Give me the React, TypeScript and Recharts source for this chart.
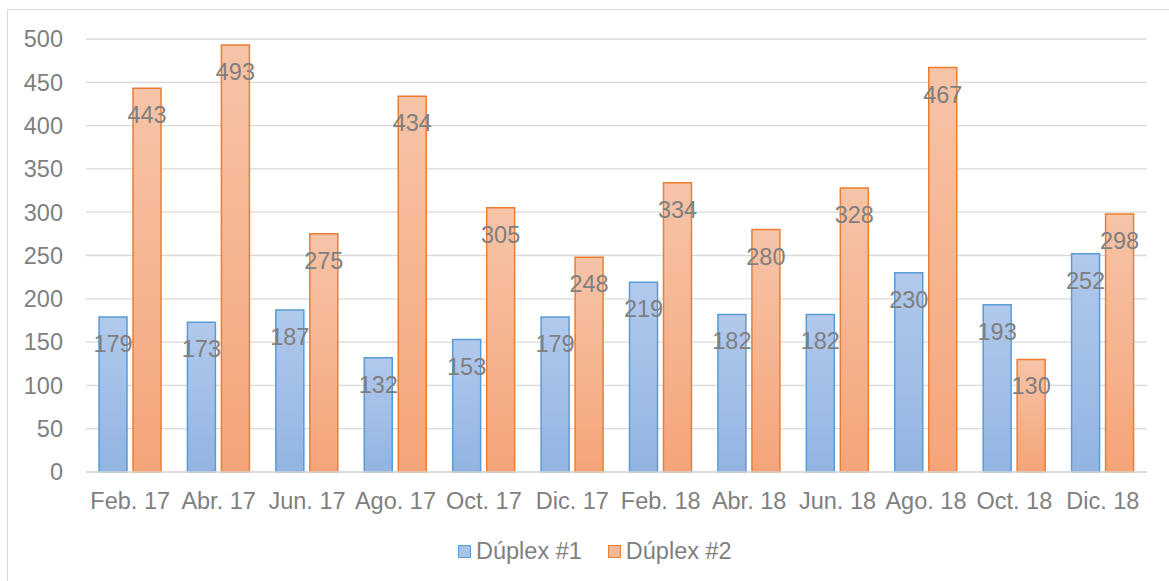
import React from 'react';
import { BarChart, Bar, XAxis, YAxis, CartesianGrid, LabelList } from 'recharts';

const categories = ['Feb. 17', 'Abr. 17', 'Jun. 17', 'Ago. 17', 'Oct. 17', 'Dic. 17', 'Feb. 18', 'Abr. 18', 'Jun. 18', 'Ago. 18', 'Oct. 18', 'Dic. 18'];
const duplex1 = [179, 173, 187, 132, 153, 179, 219, 182, 182, 230, 193, 252];
const duplex2 = [443, 493, 275, 434, 305, 248, 334, 280, 328, 467, 130, 298];
const yTicks = [0, 50, 100, 150, 200, 250, 300, 350, 400, 450, 500];
const seriesNames = ['Dúplex #1', 'Dúplex #2'];

const data = categories.map((c, i) => ({ name: c, d1: duplex1[i], d2: duplex2[i] }));

const FONT = '"Liberation Sans", Arial, sans-serif';
const TEXT = '#7f7f7f';
const FS = 23.5;

const BLUE_STROKE = '#5b9bd5';
const ORANGE_STROKE = '#ed7d31';

const renderLabel = (props: any) => {
  const { x, y, width, value } = props;
  return (
    <text
      x={Number(x) + Number(width) / 2}
      y={Number(y) + 35}
      textAnchor="middle"
      fill={TEXT}
      fontSize={FS}
      fontFamily={FONT}
    >
      {value}
    </text>
  );
};

export default function App() {
  return (
    <div style={{ position: 'absolute', left: 0, top: 0, width: 1169, height: 581, overflow: 'hidden', background: '#fff' }}>
      <div style={{ position: 'absolute', left: 7, top: 9, width: 1300, height: 700, borderLeft: '1.5px solid #d9d9d9', borderTop: '1.5px solid #d9d9d9' }} />
      <div style={{ position: 'absolute', left: 0, top: 0 }}>
        <BarChart
          width={1169}
          height={581}
          data={data}
          margin={{ top: 39, right: 22, bottom: 79, left: 0 }}
          barCategoryGap={13}
          barGap={6}
        >
          <defs>
            <linearGradient id="gBlue" x1="0" y1="0" x2="0" y2="1">
              <stop offset="0%" stopColor="#b1c9eb" />
              <stop offset="100%" stopColor="#92b4e2" />
            </linearGradient>
            <linearGradient id="gOrange" x1="0" y1="0" x2="0" y2="1">
              <stop offset="0%" stopColor="#f6c4a8" />
              <stop offset="100%" stopColor="#f5a479" />
            </linearGradient>
          </defs>
          <CartesianGrid vertical={false} stroke="#d9d9d9" strokeWidth={1.3} />
          <XAxis
            dataKey="name"
            height={30}
            axisLine={{ stroke: '#d9d9d9', strokeWidth: 1.3 }}
            tickLine={false}
            tickMargin={14}
            interval={0}
            tick={{ fill: TEXT, fontSize: FS, fontFamily: FONT }}
          />
          <YAxis
            width={86}
            domain={[0, 500]}
            ticks={yTicks}
            axisLine={false}
            tickLine={false}
            tickMargin={17}
            interval={0}
            tick={{ fill: TEXT, fontSize: FS, fontFamily: FONT }}
          />
          <Bar dataKey="d1" name={seriesNames[0]} fill="url(#gBlue)" stroke={BLUE_STROKE} strokeWidth={1.5} isAnimationActive={false}>
            <LabelList dataKey="d1" content={renderLabel} />
          </Bar>
          <Bar dataKey="d2" name={seriesNames[1]} fill="url(#gOrange)" stroke={ORANGE_STROKE} strokeWidth={1.5} isAnimationActive={false}>
            <LabelList dataKey="d2" content={renderLabel} />
          </Bar>
        </BarChart>
      </div>
      <div style={{ position: 'absolute', left: 458, top: 537, display: 'flex', alignItems: 'center', fontFamily: FONT, fontSize: FS, color: TEXT, lineHeight: '28px' }}>
        <span style={{ display: 'inline-block', width: 11, height: 11, border: `1.5px solid ${BLUE_STROKE}`, background: '#a6c3e9' }} />
        <span style={{ marginLeft: 5 }}>{seriesNames[0]}</span>
        <span style={{ display: 'inline-block', width: 11, height: 11, border: `1.5px solid ${ORANGE_STROKE}`, background: '#f6b798', marginLeft: 26 }} />
        <span style={{ marginLeft: 5 }}>{seriesNames[1]}</span>
      </div>
    </div>
  );
}
